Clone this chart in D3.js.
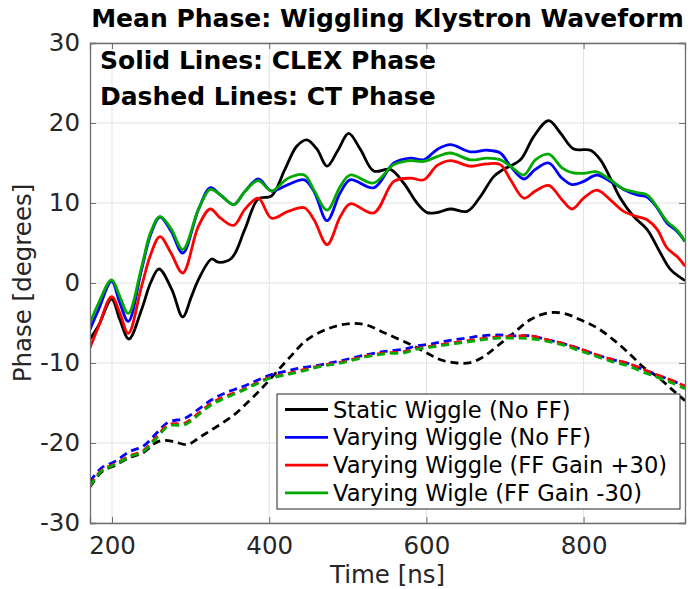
<!DOCTYPE html>
<html>
<head>
<meta charset="utf-8">
<script src="https://cdn.jsdelivr.net/npm/d3@7"></script>
<style>
html,body{margin:0;padding:0;background:#fff;}
svg{display:block;}
text{font-family:"DejaVu Sans",sans-serif;}
</style>
</head>
<body>
<svg id="chart" width="688" height="589"></svg>
<script>
// ---------- data ----------
const xTicks = [200, 400, 600, 800];
const yTicks = [-30, -20, -10, 0, 10, 20, 30];
const seriesNames = ["Static Wiggle (No FF)", "Varying Wiggle (No FF)", "Varying Wiggle (FF Gain +30)", "Varying Wigle (FF Gain -30)"];
const seriesColors = ["#000000", "#0000ff", "#ff0000", "#00aa00"];

// CLEX phase (solid lines)
const timeStaticClex = [172,183,199.5,210,221.5,237.7,249,259.8,276,289.9,301,309.8,326.8,335,352,369,386,403,420,435,448,461,473.6,488,501,516,533,554,571,588,601,613,630.5,651.8,668.7,685.6,698,719.6,736.5,755.6,770.5,787.5,808.7,821.4,834,846.8,863.8,880.7,897.7,910.4,929];
const staticClex = [-7.0,-5.3,-2.0,-4.6,-7.0,-3.3,0.0,1.75,-0.8,-4.25,-1.7,0.4,3.0,2.6,3.1,6.7,10.5,10.9,14.2,17.1,17.9,16.7,14.6,16.7,18.7,16.7,14.0,14.2,12.5,10.0,8.8,8.8,9.25,8.95,10.8,13.3,14.2,15.4,18.3,20.3,18.75,16.75,16.6,15.4,13.1,10.6,8.3,6.7,3.75,1.7,0.3];

const timeVaryClex = [172,183,199.5,210,220.7,237.7,249,261,275,290,310,325,338,355,369,386,403,424,444.6,457,473.6,490.5,503,533,558.6,579.8,596.7,613.7,630.5,656,677,694,707,724,738.6,755.6,772.5,785.3,800,817,834,851,868,880.7,893.5,906,919,929];
const varyNoFFClex = [-5.8,-3.3,0.2,-2.5,-4.8,1.7,6.0,8.25,6.5,3.75,9.2,11.9,11.0,9.8,11.45,13.0,11.5,12.3,12.9,11.45,7.8,11.3,12.9,11.9,15.0,15.6,15.4,16.7,17.3,16.4,16.6,16.25,14.6,13.0,14.2,15.0,13.1,12.3,12.7,13.5,12.7,11.7,11.0,10.75,9.4,7.5,6.45,5.2];
const varyGainPlusClex = [-8.1,-5.4,-1.7,-3.75,-6.3,-0.4,3.5,5.8,3.75,1.25,7.1,9.25,8.1,7.2,9.2,10.6,8.1,8.95,9.4,7.9,4.8,8.3,9.9,8.75,12.7,13.1,12.9,14.7,15.3,14.6,14.9,14.8,12.9,10.6,11.5,12.2,10.4,9.25,10.6,11.6,10.4,8.95,8.3,7.9,6.7,4.4,3.3,2.1];
const varyGainMinusClex = [-5.0,-2.5,0.4,-1.7,-3.8,2.0,6.3,8.3,6.8,4.2,9.2,11.7,11.0,9.8,11.45,12.8,11.5,13.1,13.5,11.6,9.1,12.1,13.5,12.5,14.8,15.3,15.2,15.8,16.25,15.4,15.6,15.4,14.6,13.5,15.4,16.1,14.4,13.8,13.7,13.9,12.9,11.75,11.3,11.0,9.5,7.7,6.6,5.2];

// CT phase (dashed lines)
const timeStaticCt = [172,186.8,203.8,222.9,239.8,255,263,278,296,313,334,355,376,393,410,427,448,474,500,522,547,575.6,597,618,639,656,673,690,711,732,754,775,796,817,838,860,877,894,910,923,929];
const staticCt = [-25.5,-23.6,-22.8,-21.8,-21.2,-20.0,-19.7,-19.8,-20.2,-19.2,-17.9,-16.5,-14.6,-12.9,-11.05,-9.2,-7.1,-5.75,-5.1,-5.2,-6.25,-7.5,-8.55,-9.6,-10.0,-9.95,-9.2,-7.9,-6.25,-4.6,-3.75,-3.8,-4.6,-5.6,-7.1,-9.0,-10.6,-11.7,-13.1,-14.2,-14.7];

const timeVaryCt = [172,186.8,203.8,222.9,239.8,256.8,271.6,292.9,309.8,326.8,343.8,364.9,382,401,420,441,467,492,522,547,573,586,607,628,650,671,692,713,732,754,775,796,817,838,855,874.5,894,915,929];
const varyNoFFCt = [-24.8,-23.1,-22.3,-21.05,-20.4,-18.75,-17.4,-16.9,-15.8,-14.6,-13.75,-13.0,-12.3,-11.5,-11.05,-10.6,-10.2,-9.7,-9.0,-8.55,-8.25,-7.9,-7.6,-7.2,-6.9,-6.6,-6.5,-6.6,-6.6,-7.1,-7.6,-8.25,-9.0,-9.6,-10.0,-10.75,-11.5,-12.3,-12.9];
const varyGainPlusCt = [-25.3,-23.4,-22.6,-21.6,-20.95,-19.2,-17.7,-17.5,-16.3,-15.0,-14.2,-13.4,-12.6,-11.8,-11.4,-10.9,-10.3,-9.9,-9.15,-8.75,-8.55,-8.2,-7.9,-7.55,-7.25,-6.95,-6.75,-6.65,-6.6,-7.1,-7.6,-8.25,-9.0,-9.6,-10.0,-10.75,-11.5,-12.3,-12.9];
const varyGainMinusCt = [-25.4,-23.5,-22.7,-21.7,-21.05,-19.4,-17.9,-17.7,-16.5,-15.2,-14.4,-13.5,-12.7,-11.9,-11.5,-11.05,-10.4,-10.0,-9.25,-8.85,-8.7,-8.3,-8.0,-7.7,-7.4,-7.1,-6.9,-6.9,-6.95,-7.3,-7.8,-8.5,-9.2,-9.9,-10.3,-11.1,-11.8,-12.6,-13.2];

// ---------- layout ----------
const L = 90, R = 685, T = 43, B = 523;
const svg = d3.select("#chart");
const x = d3.scaleLinear().domain([172, 929]).range([L, R]);
const y = d3.scaleLinear().domain([-30, 30]).range([B, T]);
const axisColor = "#262626";
const fmt = d => String(d);

// grid
const grid = svg.append("g");
grid.selectAll("line.gx").data(xTicks).enter().append("line")
  .attr("x1", d => x(d)).attr("x2", d => x(d)).attr("y1", T).attr("y2", B)
  .attr("stroke", "#e3e3e3").attr("stroke-width", 1);
grid.selectAll("line.gy").data(yTicks).enter().append("line")
  .attr("x1", L).attr("x2", R).attr("y1", d => y(d)).attr("y2", d => y(d))
  .attr("stroke", "#e3e3e3").attr("stroke-width", 1);

// clip
svg.append("clipPath").attr("id", "clip").append("rect")
  .attr("x", L).attr("y", T).attr("width", R - L).attr("height", B - T);

const plot = svg.append("g").attr("clip-path", "url(#clip)");
const line = d3.line().x(d => x(d[0])).y(d => y(d[1])).curve(d3.curveCatmullRom.alpha(0.5));
const zip = (t, v) => t.map((ti, i) => [ti, v[i]]);

const solid = [
  [timeStaticClex, staticClex],
  [timeVaryClex, varyNoFFClex],
  [timeVaryClex, varyGainPlusClex],
  [timeVaryClex, varyGainMinusClex]
];
const dashed = [
  [timeStaticCt, staticCt],
  [timeVaryCt, varyNoFFCt],
  [timeVaryCt, varyGainPlusCt],
  [timeVaryCt, varyGainMinusCt]
];
solid.forEach((s, i) => {
  plot.append("path").attr("d", line(zip(s[0], s[1])))
    .attr("fill", "none").attr("stroke", seriesColors[i]).attr("stroke-width", 2.8)
    .attr("stroke-linejoin", "round");
});
dashed.forEach((s, i) => {
  plot.append("path").attr("d", line(zip(s[0], s[1])))
    .attr("fill", "none").attr("stroke", seriesColors[i]).attr("stroke-width", 2.8)
    .attr("stroke-dasharray", "8,5");
});

// axes
const xAxis = d3.axisBottom(x).tickValues(xTicks).tickSize(-6).tickPadding(14).tickFormat(fmt);
const yAxis = d3.axisLeft(y).tickValues(yTicks).tickSize(-6).tickPadding(10).tickFormat(fmt);
const gx = svg.append("g").attr("transform", `translate(0,${B})`).call(xAxis);
const gy = svg.append("g").attr("transform", `translate(${L},0)`).call(yAxis);
const gxTop = svg.append("g").attr("transform", `translate(0,${T})`).call(d3.axisTop(x).tickValues(xTicks).tickSize(-6).tickFormat(""));
const gyRight = svg.append("g").attr("transform", `translate(${R},0)`).call(d3.axisRight(y).tickValues(yTicks).tickSize(-6).tickFormat(""));
[gx, gy, gxTop, gyRight].forEach(g => {
  g.select(".domain").attr("stroke", "#6e6e6e").attr("stroke-width", 1.3);
  g.selectAll(".tick line").attr("stroke", "#6e6e6e");
  g.selectAll("text").attr("font-family", "DejaVu Sans").attr("font-size", 24.5).attr("fill", axisColor);
});
gx.selectAll("text").attr("dy", "0.71em");

// axis labels
svg.append("text").attr("x", (L + R) / 2).attr("y", 583).attr("text-anchor", "middle")
  .attr("font-size", 24.5).attr("fill", axisColor).text("Time [ns]");
svg.append("text").attr("transform", `translate(31,${(T + B) / 2}) rotate(-90)`).attr("text-anchor", "middle")
  .attr("font-size", 24.5).attr("fill", axisColor).text("Phase [degrees]");

// title and annotations
svg.append("text").attr("x", (L + R) / 2).attr("y", 27).attr("text-anchor", "middle")
  .attr("font-size", 25).attr("font-weight", "bold").attr("fill", "#000").text("Mean Phase: Wiggling Klystron Waveform");
svg.append("text").attr("x", 100).attr("y", 69)
  .attr("font-size", 25).attr("font-weight", "bold").attr("fill", "#000").text("Solid Lines: CLEX Phase");
svg.append("text").attr("x", 100).attr("y", 105)
  .attr("font-size", 25).attr("font-weight", "bold").attr("fill", "#000").text("Dashed Lines: CT Phase");

// legend
const lg = svg.append("g");
lg.append("rect").attr("x", 277).attr("y", 394).attr("width", 403).attr("height", 115)
  .attr("fill", "#fff").attr("stroke", "#262626").attr("stroke-width", 1);
seriesNames.forEach((name, i) => {
  const yy = 409.5 + i * 27.8;
  lg.append("line").attr("x1", 285).attr("x2", 328).attr("y1", yy).attr("y2", yy)
    .attr("stroke", seriesColors[i]).attr("stroke-width", 2.8);
  lg.append("text").attr("x", 333).attr("y", yy).attr("dy", "0.36em")
    .attr("font-size", 22.6).attr("fill", "#000").text(name);
});
</script>
</body>
</html>
